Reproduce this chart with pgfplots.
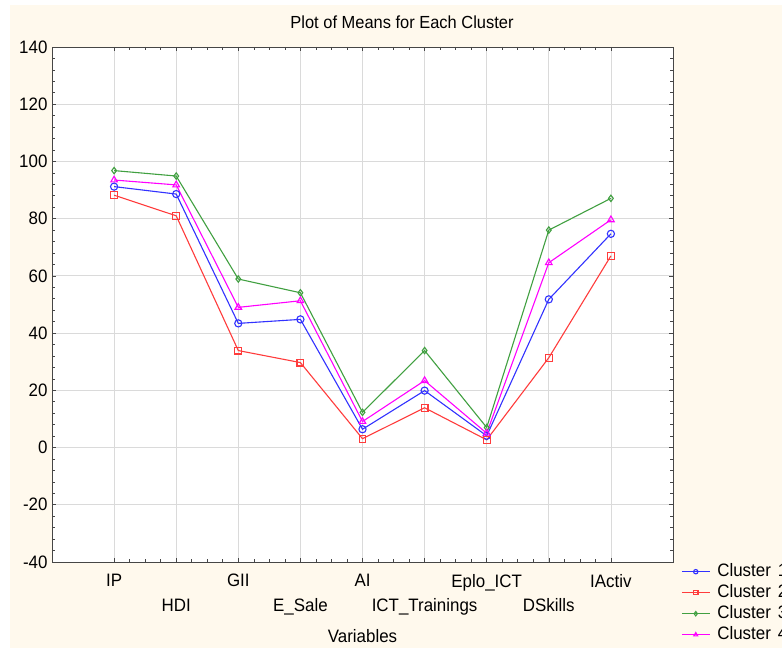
\documentclass[border=0pt]{standalone}
\usepackage{pgfplots}
\pgfplotsset{compat=1.18}
\usepackage{fontspec}
\setmainfont{Liberation Sans}[FakeStretch=0.94]
\definecolor{cream}{RGB}{255,249,237}
\definecolor{cblue}{RGB}{50,50,255}
\definecolor{cred}{RGB}{255,60,60}
\definecolor{cgreen}{RGB}{65,160,65}
\definecolor{cmag}{RGB}{255,0,255}
\definecolor{gridc}{RGB}{218,218,218}
\definecolor{axc}{RGB}{70,70,70}
\newcommand\lf{\fontsize{18}{21}\selectfont}
\newcommand\lo{\rule{0pt}{37pt}}
\begin{document}
\begin{tikzpicture}[x=1pt,y=1pt]
\fill[white] (0,0) rectangle (782,648);
\fill[cream] (10,0) rectangle (782,643);
\path[use as bounding box] (0,0) rectangle (782,648);
\node[font=\fontsize{17.5}{20}\selectfont] at (402,626) {Plot of Means for Each Cluster};
\begin{axis}[
  at={(52pt,86pt)}, anchor=south west,
  scale only axis, width=621pt, height=515pt,
  xmin=-1, xmax=9, ymin=-40, ymax=140,
  axis background/.style={fill=white},
  axis line style={axc, line width=0.8pt},
  xtick={0,...,8},
  xticklabels={IP,{\lo HDI},GII,{\lo E\_Sale},AI,{\lo ICT\_Trainings},Eplo\_ICT,{\lo DSkills},IActiv},
  xticklabel style={font=\lf, yshift=-8.5pt},
  ytick={-40,-20,...,140},
  yticklabels={-40,-20,0,20,40,60,80,100,120,140},
  yticklabel style={font=\lf, xshift=-1pt},
  minor x tick num=3, minor y tick num=4,
  tick align=inside, ticks=both,
  major tick length=4pt, minor tick length=3pt,
  every tick/.style={axc, line width=0.6pt},
  xtick pos=both, ytick pos=both,
  grid=major, major grid style={gridc, line width=0.8pt},
  xlabel={Variables},
  xlabel style={font=\lf, yshift=-8pt},
  legend style={draw=none, fill=none, at={(1,0)}, anchor=north west, xshift=5pt, yshift=1.5pt,
    font=\lf, row sep=3pt,
    nodes={inner ysep=1pt, inner xsep=5pt, text height=13pt, text depth=3pt}},
  legend cell align=left,
  legend image code/.code={\draw[mark repeat=2, mark phase=2, mark size=2.2pt, mark options={fill=white}] plot coordinates {(0pt,0pt) (14pt,0pt) (28pt,0pt)};},
  every axis plot/.append style={line width=1.1pt, mark options={fill=white, solid}},
  clip=false,
]
\addplot[cblue, mark=o, mark size=3.6pt] coordinates {(0,91.2)(1,88.6)(2,43.4)(3,44.8)(4,6.4)(5,19.9)(6,4.1)(7,51.8)(8,74.7)};
\addplot[cred, mark=square, mark size=3.4pt] coordinates {(0,88.2)(1,81.0)(2,33.9)(3,29.7)(4,3.1)(5,13.9)(6,2.7)(7,31.4)(8,67.0)};
\addplot[cgreen, mark=diamond, mark size=3.2pt] coordinates {(0,96.8)(1,94.9)(2,58.9)(3,54.1)(4,12.3)(5,33.9)(6,7.0)(7,76.0)(8,87.1)};
\addplot[cmag, mark=triangle, mark size=3.8pt] coordinates {(0,93.5)(1,91.8)(2,49.0)(3,51.3)(4,9.1)(5,23.4)(6,5.0)(7,64.6)(8,79.6)};
\legend{\hspace{2pt}Cluster\hspace{7pt}1,\hspace{2pt}Cluster\hspace{7pt}2,\hspace{2pt}Cluster\hspace{7pt}3,\hspace{2pt}Cluster\hspace{7pt}4}
\end{axis}
\end{tikzpicture}
\end{document}
